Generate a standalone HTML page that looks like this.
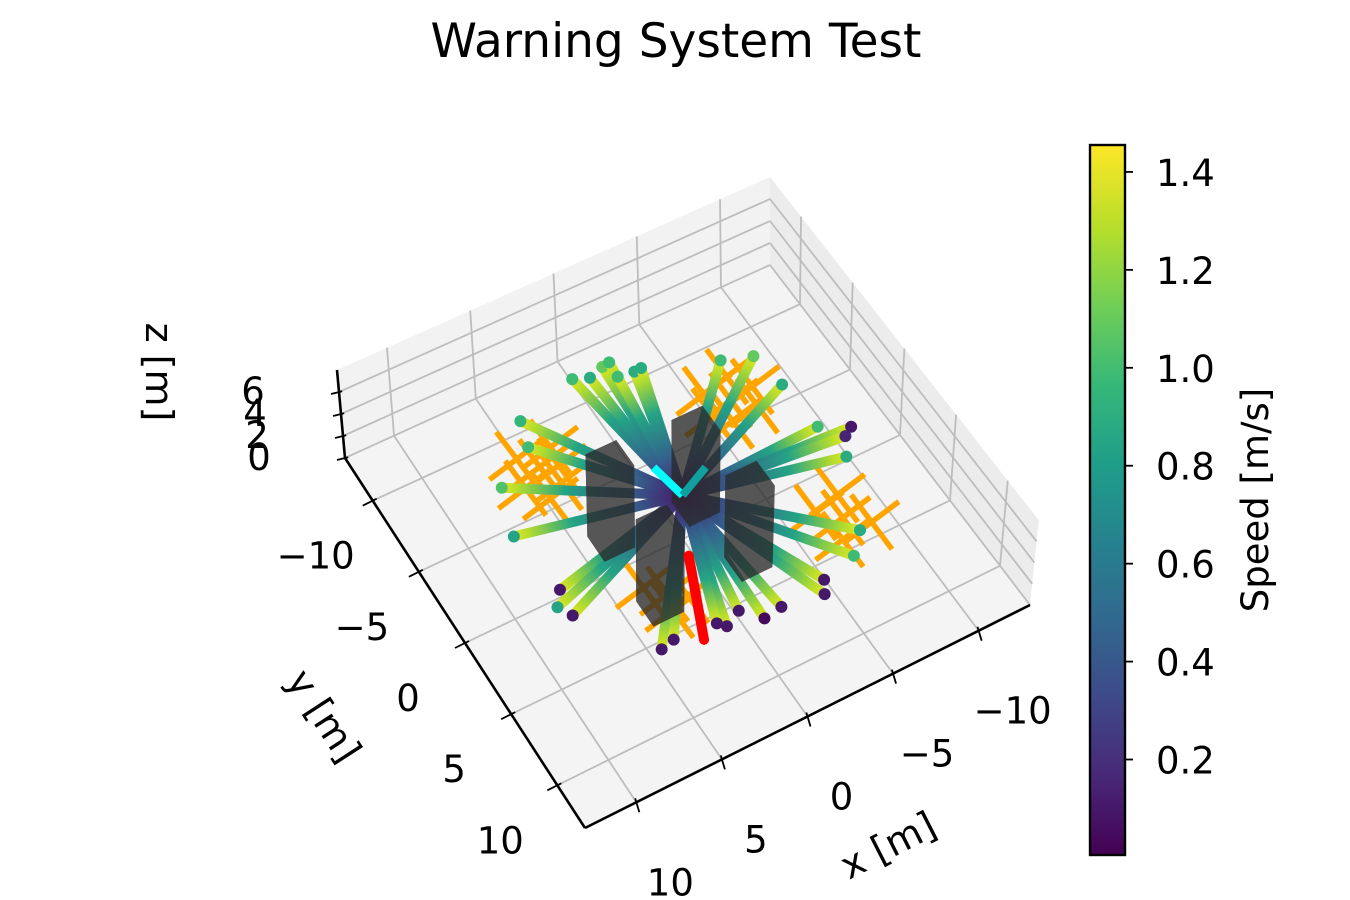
<!DOCTYPE html>
<html><head><meta charset="utf-8"><style>
html,body{margin:0;padding:0;background:#fff;}
svg{display:block;font-family:"DejaVu Sans","Liberation Sans",sans-serif;}
</style></head><body>
<svg id="chart" width="1350" height="900" viewBox="0 0 1350 900" xmlns="http://www.w3.org/2000/svg">
<defs>
<linearGradient id="cbgrad" x1="0" y1="1" x2="0" y2="0">
<stop offset="0" stop-color="#440154"/><stop offset="0.11" stop-color="#482878"/><stop offset="0.22" stop-color="#3e4989"/><stop offset="0.33" stop-color="#31688e"/><stop offset="0.44" stop-color="#26828e"/><stop offset="0.55" stop-color="#1f9e89"/><stop offset="0.66" stop-color="#35b779"/><stop offset="0.77" stop-color="#6ece58"/><stop offset="0.88" stop-color="#b5de2b"/><stop offset="1" stop-color="#fde725"/>
</linearGradient>
</defs>
<text x="676" y="57" font-size="47" text-anchor="middle">Warning System Test</text>
<g id="panes"></g>
<g id="grid"></g>
<g id="axes"></g>
<g id="marks"></g>
<g id="cbar"></g>
<text font-size="38" text-anchor="middle" transform="translate(894,857) rotate(-27)">x [m]</text>
<text font-size="38" text-anchor="middle" transform="translate(313,723) rotate(57)">y [m]</text>
<text font-size="38" text-anchor="middle" transform="translate(146,372) rotate(90)">z [m]</text>
</svg>
<script>
// ---- data ----
const xTicks = [-10, -5, 0, 5, 10];
const yTicks = [-10, -5, 0, 5, 10];
const zTicks = [0, 2, 4, 6];
const cbTicks = [0.2, 0.4, 0.6, 0.8, 1.0, 1.2, 1.4];
const speedMin = 0.005, speedMax = 1.455;
const trajEndX = [1.24,0.39,-0.52,-0.98,-1.82,-2.24,-0.9,4.94,8.82,7.87,5.41,-6.06,-7.66,-7.99,-8.16,-9.62,-9.06,-8.43,-6.64,-5.56,-3.52,-3.09,-0.83,0.26,1.14,2.13,2.48,5.68,4.86,8.37,9.01,8.58];
const trajEndY = [-9.18,-8.81,-9.10,-9.18,-8.03,-8.06,-8.17,-8.18,-2.08,-5.02,-6.56,-6.46,-5.85,-3.54,-0.28,0.6,0.97,2.13,6.54,7.78,8.3,9.1,8.65,8.83,7.74,8.27,7.85,7.81,7.6,1.97,2.85,3.68];
const trajEndSpeed = [1.0,0.9,1.1,1.0,0.9,0.9,1.0,0.95,0.85,1.05,1.0,1.0,1.1,0.9,1.0,0.1,0.15,0.9,0.9,1.0,0.1,0.1,0.1,0.05,0.1,0.1,0.1,0.1,0.1,0.1,0.85,0.1];
const trajZ = 4;
const obsX = [5.5,6.8,4.4,5.0,6.3,6.0,4.6,-5.2,-4.2,-6.2,-5.8,-4.6,-6.6,-3.9,-6.3,-5.3,-7.4,-6.8,-5.6,3.74,4.6,2.9,4.0];
const obsY = [-5.2,-4.4,-6.0,-3.8,-6.2,-3.2,-4.8,-4.0,-5.0,-3.0,-5.4,-2.8,-4.2,-3.6,5.4,4.4,6.4,4.0,6.6,4.98,4.0,5.6,6.0];
const boxX = [3.3,-1.6,-2.2,3.1];
const boxY = [-1.7,-1.4,3.0,3.1];
const boxHeight = 7.5;
const redPathX = [1.62,3.54];
const redPathY = [3.44,8.4];
const cyanStartX = [0.4,-1.92];
const cyanStartY = [-2.28,-0.95];

// ---- projection (bilinear floor quad + vertical) ----
const C = {ll:[345,458], lb:[770,265], rr:[1030,605], ff:[585,828]};
const ZV = {ll:[-1.0,-11], lb:[0,-11], rr:[1.1,-10.6], ff:[0,-11]};
function bil(o, x, y){
  const u=(13-x)/26, v=(y+13)/26;
  const a=o.ll, b=o.lb, c=o.rr, d=o.ff;
  return [ (1-u)*(1-v)*a[0]+u*(1-v)*b[0]+u*v*c[0]+(1-u)*v*d[0],
           (1-u)*(1-v)*a[1]+u*(1-v)*b[1]+u*v*c[1]+(1-u)*v*d[1] ];
}
function P(x,y,z){ const p=bil(C,x,y), q=bil(ZV,x,y); return [p[0]+q[0]*z, p[1]+q[1]*z]; }
const ZMAX=8, LIM=13;
const NS="http://www.w3.org/2000/svg";
function mk(tag, attrs, parent){ const e=document.createElementNS(NS,tag); for(const k in attrs) e.setAttribute(k,attrs[k]); parent.appendChild(e); return e; }
function pts(arr){ return arr.map(p=>p[0].toFixed(1)+","+p[1].toFixed(1)).join(" "); }
const VIR=["#440154","#482878","#3e4989","#31688e","#26828e","#1f9e89","#35b779","#6ece58","#b5de2b","#fde725"];
function hex(h){return [parseInt(h.substr(1,2),16),parseInt(h.substr(3,2),16),parseInt(h.substr(5,2),16)];}
function vir(t){ t=Math.max(0,Math.min(1,t)); const f=t*9, i=Math.min(8,Math.floor(f)), r=f-i; const a=hex(VIR[i]), b=hex(VIR[i+1]); return "rgb("+a.map((v,k)=>Math.round(v+(b[k]-v)*r)).join(",")+")"; }
function sp(s){ return vir((s-speedMin)/(speedMax-speedMin)); }

// panes
const panes=document.getElementById('panes');
let el;
el=mk('polygon',{points:pts([P(LIM,-LIM,0),P(-LIM,-LIM,0),P(-LIM,-LIM,ZMAX),P(LIM,-LIM,ZMAX)]),fill:'#f2f2f2'},panes);
 
el=mk('polygon',{points:pts([P(-LIM,-LIM,0),P(-LIM,LIM,0),P(-LIM,LIM,ZMAX),P(-LIM,-LIM,ZMAX)]),fill:'#ececec'},panes);
 
el=mk('polygon',{points:pts([P(LIM,-LIM,0),P(-LIM,-LIM,0),P(-LIM,LIM,0),P(LIM,LIM,0)]),fill:'#f4f4f4'},panes);
 

// grid
const grid=document.getElementById('grid');
const gs={stroke:'#bdbdbd','stroke-width':1.8,fill:'none'};
function gl(a,b,name){ const e=mk('line',Object.assign({x1:a[0],y1:a[1],x2:b[0],y2:b[1]},gs),grid);   }
xTicks.forEach(t=>{ gl(P(t,-LIM,0),P(t,LIM,0),'floor-grid-x'); gl(P(t,-LIM,0),P(t,-LIM,ZMAX),'wall-grid-x'); });
yTicks.forEach(t=>{ gl(P(LIM,t,0),P(-LIM,t,0),'floor-grid-y'); gl(P(-LIM,t,0),P(-LIM,t,ZMAX),'wall-grid-y'); });
zTicks.forEach(t=>{ gl(P(LIM,-LIM,t),P(-LIM,-LIM,t),'wall-grid-z'); gl(P(-LIM,-LIM,t),P(-LIM,LIM,t),'wall-grid-z'); });

// axes
const axes=document.getElementById('axes');
function al(a,b,name,w){ const e=mk('line',{x1:a[0],y1:a[1],x2:b[0],y2:b[1],stroke:'#000','stroke-width':w||2},axes);   }
al(P(LIM,LIM,0),P(-LIM,LIM,0),'x-axis-line',2.6);
al(P(LIM,-LIM,0),P(LIM,LIM,0),'y-axis-line',2.6);
al(P(LIM,-LIM,0),P(LIM,-LIM,ZMAX),'z-axis-line',2.6);
function tl(p,dx,dy,label,lx,ly,name){
  al([p[0]-dx*0.4,p[1]-dy*0.4],[p[0]+dx,p[1]+dy],name+'-tick',1.8);
  const t=mk('text',{x:p[0]+lx,y:p[1]+ly,'font-size':37,'text-anchor':'middle'},axes);
  t.textContent=String(label).replace('-','\u2212');
   
}
xTicks.forEach(t=>tl(P(t,LIM,0),3,10,t,34,93,'x-tick'));
yTicks.forEach(t=>tl(P(LIM,t,0),-10,5,t,-57,68,'y-tick'));
zTicks.forEach(t=>tl(P(LIM,-LIM,t),-8,2,t,-86,12,'z-tick'));

// marks
const marks=document.getElementById('marks');
// orange X markers (obstacle warnings)
obsX.forEach((ox,i)=>{
  const c=P(ox,obsY[i],trajZ), L=34;
  const g=mk('g',{},marks);
   
  mk('line',{x1:c[0]-L*0.6,y1:c[1]-L*0.8,x2:c[0]+L*0.6,y2:c[1]+L*0.8,stroke:'#ffa500','stroke-width':5.5},g);
  mk('line',{x1:c[0]-L*0.8,y1:c[1]+L*0.6,x2:c[0]+L*0.8,y2:c[1]-L*0.6,stroke:'#ffa500','stroke-width':5.5},g);
});
// trajectories
const defs=document.querySelector('defs');
const c0=P(0,0,trajZ);
trajEndX.forEach((ex,i)=>{
  const e=P(ex,trajEndY[i],trajZ);
  const id='tg'+i;
  const lg=mk('linearGradient',{id:id,gradientUnits:'userSpaceOnUse',x1:c0[0],y1:c0[1],x2:e[0],y2:e[1]},defs);
  mk('stop',{offset:0,'stop-color':sp(0.1)},lg);
  mk('stop',{offset:0.3,'stop-color':sp(0.45)},lg);
  mk('stop',{offset:0.65,'stop-color':sp(0.85)},lg);
  mk('stop',{offset:0.92,'stop-color':sp(1.3)},lg);
  mk('stop',{offset:1,'stop-color':sp(1.4)},lg);
  const g=mk('g',{},marks);
   
  mk('line',{x1:c0[0],y1:c0[1],x2:e[0],y2:e[1],stroke:'url(#'+id+')','stroke-width':10,'stroke-linecap':'round'},g);
  mk('circle',{cx:e[0],cy:e[1],r:6,fill:sp(trajEndSpeed[i])},g);
});
// boxes (semi-transparent, drawn over trajectories)
boxX.forEach((bx,i)=>{
  const by=boxY[i], h=0.9;
  const g=mk('g',{opacity:0.78},marks);
   
  const c=[[bx-h,by-h],[bx+h,by-h],[bx+h,by+h],[bx-h,by+h]];
  const faces=[c.map(q=>P(q[0],q[1],0)), c.map(q=>P(q[0],q[1],boxHeight))];
  for(let k=0;k<4;k++){ const a=c[k], b=c[(k+1)%4]; faces.push([P(a[0],a[1],0),P(b[0],b[1],0),P(b[0],b[1],boxHeight),P(a[0],a[1],boxHeight)]); }
  faces.forEach(f=>mk('polygon',{points:pts(f),fill:'#2a2a2a',stroke:'#2a2a2a','stroke-width':0.5},g));
});
// cyan + red paths
cyanStartX.forEach((cx,i)=>{
  const a=P(cx,cyanStartY[i],trajZ);
  el=mk('line',{x1:a[0],y1:a[1],x2:c0[0],y2:c0[1],stroke:i===0?'#00ffff':'#10a0a0','stroke-width':8},marks);
   
});
(function(){
  const a=P(redPathX[0],redPathY[0],trajZ), b=P(redPathX[1],redPathY[1],trajZ);
  el=mk('line',{x1:a[0],y1:a[1],x2:b[0],y2:b[1],stroke:'#ff0000','stroke-width':10,'stroke-linecap':'round'},marks);
   
})();

// colorbar
const cb=document.getElementById('cbar');
const CB={x:1090,y:145,w:35,h:710};
function cbY(v){ return CB.y+CB.h-(v-speedMin)/(speedMax-speedMin)*CB.h; }
el=mk('rect',{x:CB.x,y:CB.y,width:CB.w,height:CB.h,fill:'url(#cbgrad)',stroke:'#000','stroke-width':2.4},cb);
 
cbTicks.forEach(v=>{
  const y=cbY(v);
  el=mk('line',{x1:CB.x+CB.w,y1:y,x2:CB.x+CB.w+8,y2:y,stroke:'#000','stroke-width':1.8},cb);
   
  const t=mk('text',{x:CB.x+CB.w+31,y:y+14,'font-size':37},cb);
  t.textContent=v.toFixed(1);
   
});
el=mk('text',{'font-size':37,'text-anchor':'middle',transform:'translate(1268,500) rotate(-90)'},cb);
el.textContent='Speed [m/s]';
 
</script>
</body></html>
